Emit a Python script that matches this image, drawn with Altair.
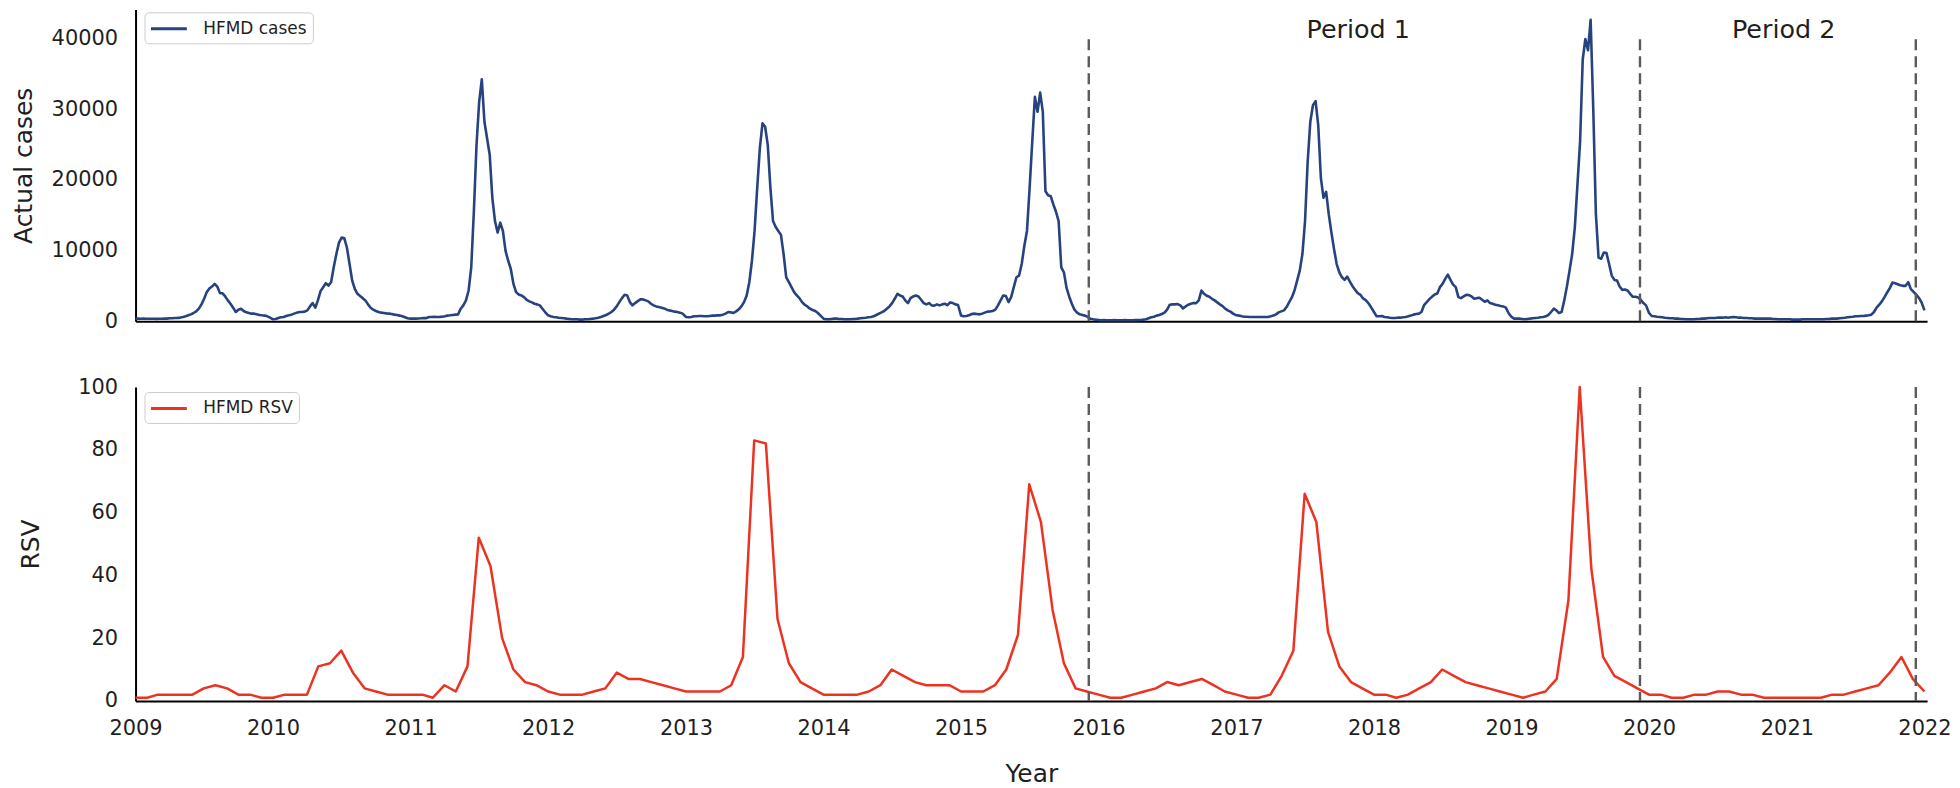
import altair as alt
import pandas as pd

# ---------------- data ----------------
hfmd_2009 = [380, 370, 360, 370, 360, 350, 360, 350, 340, 350, 360, 370, 380, 420, 430, 470, 480, 520, 600, 700,
             840, 980, 1170, 1400, 1780, 2390, 3180, 4120, 4630, 4910, 5290, 4900, 3980, 3950, 3510, 2950, 2480, 1920,
             1310, 1640, 1780, 1450, 1260, 1170, 1080, 1080, 980, 890, 840, 800, 700, 520]
hfmd_2010 = [280, 330, 470, 560, 610, 750, 840, 940, 1080, 1220, 1310, 1310, 1360, 1540, 2100, 2570, 1920, 2950,
             4260, 4820, 5380, 5050, 5520, 7630, 9500, 11130, 11840, 11740, 10430, 8090, 5750, 4580, 3880, 3560, 3270,
             2950, 2390, 1920, 1640, 1450, 1310, 1220, 1170, 1120, 1080, 1030, 940, 890, 800, 700, 560, 420]
hfmd_2011 = [370, 370, 380, 400, 420, 450, 450, 610, 600, 620, 610, 620, 650, 700, 800, 840, 890, 940, 980, 1780,
             2250, 2950, 4350, 7630, 15580, 24930, 31020, 34200, 28200, 25870, 23530, 17450, 14170, 12540, 13940,
             12770, 9960, 8560, 7390, 5290, 4120, 3790, 3650, 3410, 3040, 2810, 2670, 2480, 2390, 2250, 1780, 1310]
hfmd_2012 = [840, 700, 610, 560, 510, 470, 420, 370, 330, 280, 280, 280, 230, 230, 280, 280, 330, 370, 420, 510,
             610, 750, 890, 1080, 1310, 1640, 2100, 2710, 3270, 3740, 3650, 2710, 2250, 2570, 2850, 3090, 3090, 2950,
             2810, 2480, 2250, 2100, 2010, 1920, 1820, 1640, 1540, 1450, 1360, 1310, 1220, 1080]
hfmd_2013 = [610, 560, 610, 700, 700, 750, 750, 700, 700, 750, 800, 800, 840, 840, 940, 1080, 1310, 1260, 1170,
             1400, 1680, 2100, 2710, 3650, 5520, 8560, 12770, 18850, 24470, 27970, 27500, 24930, 18850, 14170, 13330,
             12770, 12210, 9500, 6220, 5520, 4820, 4120, 3650, 3270, 2710, 2340, 2100, 1780, 1590, 1450, 1170, 800]
hfmd_2014 = [370, 280, 280, 330, 370, 370, 330, 330, 280, 280, 280, 330, 330, 370, 420, 470, 510, 560, 610, 700,
             890, 1080, 1260, 1450, 1780, 2100, 2570, 3180, 3880, 3650, 3510, 2950, 2570, 3270, 3510, 3650, 3510, 3040,
             2570, 2390, 2570, 2250, 2200, 2390, 2250, 2390, 2480, 2290, 2670, 2570, 2390, 2300]
hfmd_2015 = [800, 700, 750, 840, 1030, 1080, 1030, 980, 1080, 1220, 1360, 1400, 1450, 1640, 2250, 2950, 3650, 3560,
             2710, 3410, 4820, 6220, 6460, 8090, 10670, 12770, 18850, 25400, 31720, 29610, 32330, 29610, 18380, 17820,
             17680, 16510, 15480, 14170, 7630, 6920, 4720, 3510, 2480, 1640, 1220, 980, 890, 800, 610, 370, 280, 230]
hfmd_2016 = [190, 150, 160, 150, 140, 150, 160, 150, 140, 150, 160, 150, 140, 150, 160, 170, 190, 230, 280, 420,
             560, 650, 800, 890, 1030, 1220, 1640, 2340, 2390, 2390, 2430, 2250, 1820, 2100, 2340, 2480, 2570, 2570,
             2950, 4350, 3880, 3600, 3460, 3180, 2950, 2670, 2390, 2150, 1780, 1540, 1360, 1080]
hfmd_2017 = [840, 800, 700, 650, 650, 610, 610, 610, 610, 610, 610, 610, 610, 700, 800, 980, 1260, 1400, 1540, 2010,
             2710, 3370, 4350, 5750, 7160, 9500, 14170, 22590, 28210, 30550, 31110, 27740, 20260, 17450, 18290, 15110,
             12540, 10200, 8090, 6920, 6220, 5850, 6320, 5610, 4960, 4440, 3980, 3740, 3230, 2990, 2570, 2010]
hfmd_2018 = [1310, 700, 700, 750, 610, 560, 510, 470, 470, 510, 510, 560, 610, 700, 800, 940, 1030, 1080, 1310,
             2290, 2710, 3130, 3460, 3790, 3930, 4820, 5290, 5990, 6600, 5850, 5190, 4820, 3410, 3270, 3510, 3740,
             3700, 3510, 3180, 3270, 3320, 3040, 2760, 2950, 2570, 2480, 2340, 2250, 2150, 2100, 1920, 1170]
hfmd_2019 = [610, 370, 370, 370, 330, 280, 330, 370, 420, 470, 510, 560, 610, 700, 890, 1310, 1780, 1540, 1170,
             1310, 2950, 4910, 7160, 9500, 13240, 19320, 25400, 37000, 39900, 38300, 42600, 30000, 15100, 9000, 8840,
             9730, 9640, 8090, 6460, 5850, 5750, 4910, 4440, 4490, 4350, 3880, 3460, 3460, 3370, 3040, 2570, 2250]
hfmd_2020 = [1170, 750, 700, 650, 610, 560, 510, 470, 420, 420, 370, 370, 330, 330, 280, 280, 280, 280, 330, 330,
             370, 370, 420, 470, 470, 470, 510, 510, 510, 560, 510, 560, 610, 560, 510, 510, 470, 470, 420, 420, 370,
             370, 370, 370, 370, 370, 370, 330, 330, 280, 280, 280]
hfmd_2021 = [280, 280, 230, 230, 230, 230, 280, 280, 280, 280, 280, 280, 280, 280, 280, 330, 330, 370, 370, 370,
             420, 470, 510, 560, 610, 650, 700, 700, 750, 750, 800, 840, 940, 1310, 1920, 2340, 2810, 3410, 4070,
             4680, 5470, 5380, 5240, 5100, 5010, 5010, 5520, 4540, 4160, 3790, 3320, 2710]
hfmd_2022 = [1540]

rsv_2009 = [1, 1, 2, 2, 2, 2, 4, 5, 4, 2, 2, 1]
rsv_2010 = [1, 2, 2, 2, 11, 12, 16, 9, 4, 3, 2, 2]
rsv_2011 = [2, 2, 1, 5, 3, 11, 52, 43, 20, 10, 6, 5]
rsv_2012 = [3, 2, 2, 2, 3, 4, 9, 7, 7, 6, 5, 4]
rsv_2013 = [3, 3, 3, 3, 5, 14, 83, 82, 26, 12, 6, 4]
rsv_2014 = [2, 2, 2, 2, 3, 5, 10, 8, 6, 5, 5, 5]
rsv_2015 = [3, 3, 3, 5, 10, 21, 69, 57, 29, 12, 4, 3]
rsv_2016 = [2, 1, 1, 2, 3, 4, 6, 5, 6, 7, 5, 3]
rsv_2017 = [2, 1, 1, 2, 8, 16, 66, 57, 22, 11, 6, 4]
rsv_2018 = [2, 2, 1, 2, 4, 6, 10, 8, 6, 5, 4, 3]
rsv_2019 = [2, 1, 2, 3, 7, 32, 100, 42, 14, 8, 6, 4]
rsv_2020 = [2, 2, 1, 1, 2, 2, 3, 3, 2, 2, 1, 1]
rsv_2021 = [1, 1, 1, 1, 2, 2, 3, 4, 5, 9, 14, 7]
rsv_2022 = [3]

divider_dates = ["2015-12-06", "2019-12-08", "2021-12-09"]
divider_top = 40130
period_labels = ["Period 1", "Period 2"]
period_dates = ["2017-07-06", "2020-08-08"]
period_y = [40000, 40000]
cases_ticks = [0, 10000, 20000, 30000, 40000]
rsv_ticks = [0, 20, 40, 60, 80, 100]
year_ticks = list(range(2009, 2023))

# ---------------- tables ----------------
hfmd_years = [hfmd_2009, hfmd_2010, hfmd_2011, hfmd_2012, hfmd_2013, hfmd_2014, hfmd_2015,
              hfmd_2016, hfmd_2017, hfmd_2018, hfmd_2019, hfmd_2020, hfmd_2021, hfmd_2022]
rsv_years = [rsv_2009, rsv_2010, rsv_2011, rsv_2012, rsv_2013, rsv_2014, rsv_2015,
             rsv_2016, rsv_2017, rsv_2018, rsv_2019, rsv_2020, rsv_2021, rsv_2022]

rows = []
for i, vals in enumerate(hfmd_years):
    base = pd.Timestamp(year=2009 + i, month=1, day=1)
    for k, v in enumerate(vals):
        rows.append({"date": (base + pd.Timedelta(days=7 * k)).strftime("%Y-%m-%d"),
                     "cases": v, "series": "HFMD cases"})
cases_df = pd.DataFrame(rows)

rows = []
for i, vals in enumerate(rsv_years):
    for k, v in enumerate(vals):
        rows.append({"date": f"{2009 + i}-{k + 1:02d}-01", "rsv": v, "series": "HFMD RSV"})
rsv_df = pd.DataFrame(rows)

div_df = pd.DataFrame({"date": divider_dates})
period_df = pd.DataFrame({"date": period_dates, "cases": period_y, "label": period_labels})

# ---------------- styling ----------------
FONT = "DejaVu Sans"
BLUE = "#27437f"
RED = "#ec3322"
GRAY = "#5a5a5a"
TXT = "#1f1f1f"
W = 1798

x_scale = alt.Scale(domain=[alt.DateTime(year=2009, month=1, date=1),
                            alt.DateTime(year=2022, month=1, date=8)], nice=False)
year_vals = [alt.DateTime(year=y, month=1, date=1) for y in year_ticks]

# legend: a long line sample drawn by a custom path around a small nominal symbol
legend_common = dict(title=None, orient="none", symbolType="M-2,0H2", symbolStrokeWidth=3,
                     symbolSize=324, symbolOffset=8, labelFontSize=17, labelFont=FONT, labelColor=TXT,
                     fillColor="white", strokeColor="#cccccc", cornerRadius=4, padding=6,
                     labelOffset=24, legendX=9, symbolFillColor="transparent")

# ---------------- top panel ----------------
x_top = alt.X("date:T", scale=x_scale,
              axis=alt.Axis(labels=False, ticks=False, title=None, values=year_vals))
y_top = alt.Y("cases:Q", scale=alt.Scale(domain=[0, 44085], nice=False, zero=True),
              axis=alt.Axis(values=cases_ticks, format="d", title="Actual cases", titlePadding=15))

top_line = alt.Chart(cases_df).mark_line(strokeWidth=2.6, strokeJoin="round").encode(
    x=x_top, y=y_top,
    color=alt.Color("series:N", scale=alt.Scale(domain=["HFMD cases"], range=[BLUE]),
                    legend=alt.Legend(legendY=3, **legend_common)),
)
top_rules = alt.Chart(div_df).mark_rule(color=GRAY, strokeWidth=2.4, strokeDash=[11, 6]).encode(
    x="date:T", y=alt.datum(0), y2=alt.datum(divider_top)
)
top_text = alt.Chart(period_df).mark_text(align="left", baseline="alphabetic", fontSize=25.5,
                                          font=FONT, color=TXT).encode(
    x="date:T", y="cases:Q", text="label:N"
)
top = alt.layer(top_line, top_rules, top_text).properties(width=W, height=313)

# ---------------- bottom panel ----------------
x_bot = alt.X("date:T", scale=x_scale,
              axis=alt.Axis(values=year_vals, format="%Y", title="Year", labelFlush=False,
                            labelPadding=17, titlePadding=23, labelOverlap=False))
y_bot = alt.Y("rsv:Q", scale=alt.Scale(domain=[0, 100], nice=False),
              axis=alt.Axis(values=rsv_ticks, format="d", title="RSV", titlePadding=34))

bot_line = alt.Chart(rsv_df).mark_line(strokeWidth=2.5, strokeJoin="round").encode(
    x=x_bot, y=y_bot,
    color=alt.Color("series:N", scale=alt.Scale(domain=["HFMD RSV"], range=[RED]),
                    legend=alt.Legend(legendY=5, **legend_common)),
)
bot_rules = alt.Chart(div_df).mark_rule(color=GRAY, strokeWidth=2.4, strokeDash=[11, 6]).encode(
    x="date:T"
)
bottom = alt.layer(bot_line, bot_rules).properties(width=W, height=315)

chart = alt.vconcat(top, bottom, spacing=45).resolve_scale(
    y="independent", color="independent"
).resolve_legend(color="independent").properties(
    padding={"left": 3, "top": 0, "right": 0, "bottom": 0}, background="white"
).configure_view(stroke=None).configure_axis(
    grid=False, domainColor="black", domainWidth=2, ticks=False, tickSize=0,
    labelFont=FONT, titleFont=FONT, labelFontSize=21, titleFontSize=25,
    labelColor=TXT, titleColor=TXT, titleFontWeight="normal", labelPadding=18
)

chart.save("out.html", embed_options={"renderer": "svg", "actions": False})
